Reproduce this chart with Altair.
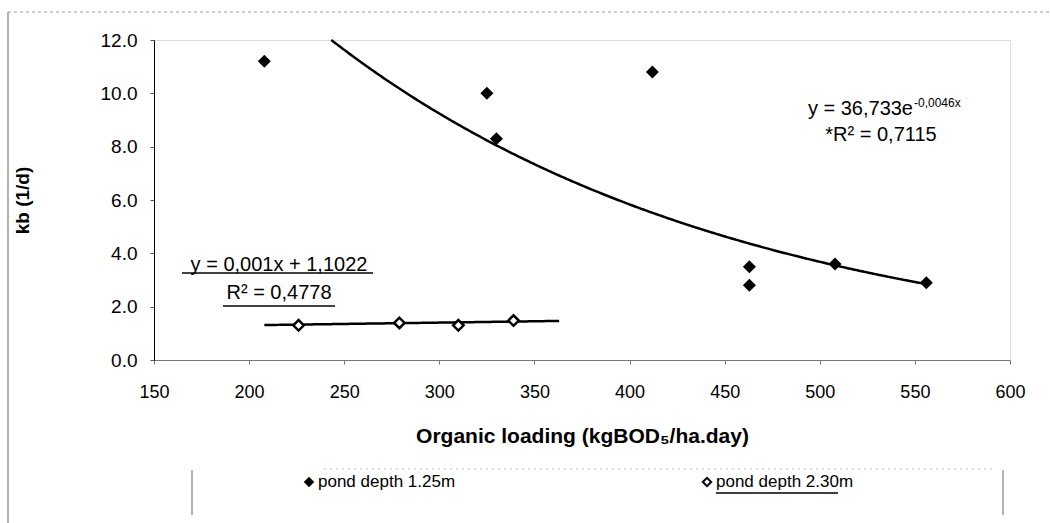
import altair as alt
import pandas as pd

# ---- data ----
depth125_x = [208, 325, 330, 412, 463, 463, 508, 556]
depth125_y = [11.2, 10.0, 8.3, 10.8, 3.5, 2.8, 3.6, 2.9]
depth230_x = [226, 279, 310, 339]
depth230_y = [1.30, 1.39, 1.30, 1.48]

# trendline equations printed on the chart
exp_a, exp_b = 36.733, -0.0046
exp_x_start, exp_x_end = 243.2, 556
lin_m, lin_c = 0.001, 1.1022
lin_x_start, lin_x_end = 208, 363

x_ticks = [150, 200, 250, 300, 350, 400, 450, 500, 550, 600]
y_ticks = [0, 2, 4, 6, 8, 10, 12]

FONT = "Liberation Sans"
W, H = 856, 320

xs = alt.Scale(domain=[150, 600], nice=False, zero=False)
ys = alt.Scale(domain=[0, 12], nice=False)

x_axis = alt.Axis(values=x_ticks, title="Organic loading (kgBOD\u2085/ha.day)", grid=False,
                  labelFontSize=18, titleFontSize=21, titleFontWeight="bold",
                  tickSize=4, labelPadding=19, titlePadding=24, labelFlush=False,
                  domainColor="#777", tickColor="#777", labelColor="black", titleColor="black",
                  labelFont=FONT, titleFont=FONT)
y_axis = alt.Axis(values=y_ticks, format=".1f", title="kb (1/d)", grid=False,
                  labelFontSize=19, titleFontSize=19, titleFontWeight="bold",
                  tickSize=4, labelPadding=13, titlePadding=68, labelFlush=False,
                  domainColor="black", tickColor="#555", labelColor="black", titleColor="black",
                  labelFont=FONT, titleFont=FONT)

df1 = pd.DataFrame({"x": depth125_x, "y": depth125_y})
df2 = pd.DataFrame({"x": depth230_x, "y": depth230_y})

exp_line = alt.Chart(alt.sequence(exp_x_start, exp_x_end + 1, 1, as_="x")).transform_calculate(
    y=f"{exp_a}*exp({exp_b}*datum.x)"
).mark_line(color="black", strokeWidth=2.5).encode(
    x=alt.X("x:Q", scale=xs, axis=x_axis),
    y=alt.Y("y:Q", scale=ys, axis=y_axis),
)

lin_line = alt.Chart(alt.sequence(lin_x_start, lin_x_end + 1, 1, as_="x")).transform_calculate(
    y=f"{lin_m}*datum.x+{lin_c}"
).mark_line(color="black", strokeWidth=2.5).encode(
    x=alt.X("x:Q", scale=xs), y=alt.Y("y:Q", scale=ys)
)

pts1 = alt.Chart(df1).mark_point(shape="diamond", filled=True, color="black", size=170, opacity=1).encode(
    x=alt.X("x:Q", scale=xs), y=alt.Y("y:Q", scale=ys)
)
pts2 = alt.Chart(df2).mark_point(shape="diamond", filled=True, fill="white", stroke="black",
                                 strokeWidth=2.5, size=110, opacity=1).encode(
    x=alt.X("x:Q", scale=xs), y=alt.Y("y:Q", scale=ys)
)

one = pd.DataFrame({"a": [0]})


def txt(text, x, y, size=20, align="center", baseline="middle", weight="normal"):
    return alt.Chart(one).mark_text(text=text, fontSize=size, font=FONT, align=align,
                                    baseline=baseline, fontWeight=weight, color="black").encode(
        x=alt.value(x), y=alt.value(y))


def rule(x1, x2, y1, y2, color="black", width=1.2, dash=None):
    kw = dict(color=color, strokeWidth=width)
    if dash:
        kw["strokeDash"] = dash
    return alt.Chart(one).mark_rule(**kw).encode(
        x=alt.value(x1), x2=alt.value(x2), y=alt.value(y1), y2=alt.value(y2))


annotations = [
    # linear trendline label (underlined)
    txt("y = 0,001x  + 1,1022", 125, 225),
    rule(28, 219, 233, 233, width=1.5),
    txt("R\u00b2 = 0,4778", 125, 253),
    rule(69, 181, 266, 266, width=1.5),
    # exponential trendline label
    txt("y = 36,733e", 759, 75, align="right", baseline="alphabetic"),
    txt("-0,0046x", 760, 67, size=12, align="left", baseline="alphabetic"),
    txt("*R\u00b2 = 0,7115", 727, 95),
    # outer frame
    rule(-146, -146, -28, 483, color="#666", width=1),
    rule(-146, 897, -28, -28, color="#999", width=1, dash=[3, 3]),
    # legend box
    rule(38, 38, 430, 475, color="#666", width=1),
    rule(849, 849, 430, 475, color="#666", width=1),
    rule(170, 840, 429, 429, color="#bbb", width=1, dash=[2, 4]),
    txt("pond depth 1.25m", 164, 442, size=17, align="left"),
    txt("pond depth 2.30m", 562, 442, size=17, align="left"),
    rule(562, 684, 453, 453, width=1.5),
]

leg_pt1 = alt.Chart(one).mark_point(shape="diamond", filled=True, color="black", size=110, opacity=1).encode(
    x=alt.value(155), y=alt.value(442))
leg_pt2 = alt.Chart(one).mark_point(shape="diamond", filled=True, fill="white", stroke="black",
                                    strokeWidth=2, size=70, opacity=1).encode(
    x=alt.value(553), y=alt.value(442))

chart = alt.layer(exp_line, lin_line, pts1, pts2, leg_pt1, leg_pt2, *annotations).properties(
    width=W, height=H,
    autosize=alt.AutoSizeParams(type="none"),
    padding={"left": 154, "top": 40, "right": 41, "bottom": 163},
    background="white",
).configure_view(stroke=None).configure(font=FONT)

chart.save("out.html", embed_options={"renderer": "svg", "actions": False})
